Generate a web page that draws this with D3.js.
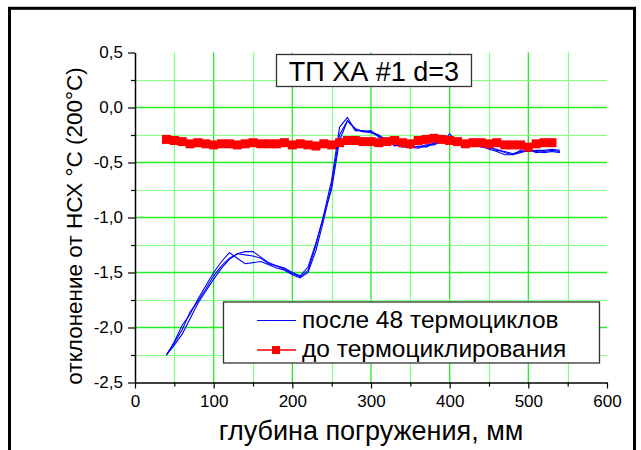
<!DOCTYPE html>
<html><head><meta charset="utf-8">
<script src="https://cdn.jsdelivr.net/npm/d3@7"></script>
<style>
html,body{margin:0;padding:0;background:#fff;}
text{font-family:"Liberation Sans",Arial,sans-serif;}
</style>
</head><body>
<svg id="chart" width="641" height="450"></svg>
<script>
// ---- data ----
const depthBlue = [40,50,60,70,80,90,100,110,120,130,140,150,160,170,180,190,200,210,220,230,240,250,260,270,280,290,300,310,320,330,340,350,360,370,380,390,400,410,420,430,440,450,460,470,480,490,500,510,520,530,540];
const blueA = [-2.25,-2.13,-1.98,-1.88,-1.74,-1.62,-1.50,-1.40,-1.32,-1.37,-1.42,-1.41,-1.40,-1.43,-1.46,-1.48,-1.52,-1.55,-1.50,-1.30,-1.02,-0.70,-0.25,-0.12,-0.20,-0.22,-0.21,-0.27,-0.32,-0.34,-0.35,-0.37,-0.35,-0.36,-0.33,-0.30,-0.30,-0.29,-0.34,-0.32,-0.35,-0.38,-0.40,-0.43,-0.43,-0.39,-0.38,-0.41,-0.40,-0.39,-0.40];
const blueB = [-2.25,-2.16,-2.06,-1.92,-1.78,-1.67,-1.56,-1.46,-1.38,-1.33,-1.31,-1.31,-1.36,-1.41,-1.44,-1.47,-1.51,-1.54,-1.48,-1.25,-0.97,-0.66,-0.18,-0.09,-0.21,-0.21,-0.22,-0.25,-0.30,-0.35,-0.34,-0.36,-0.37,-0.35,-0.32,-0.32,-0.24,-0.32,-0.33,-0.34,-0.35,-0.37,-0.38,-0.41,-0.43,-0.41,-0.39,-0.40,-0.41,-0.40,-0.41];
const blueC = [-2.25,-2.14,-2.02,-1.86,-1.76,-1.65,-1.53,-1.44,-1.37,-1.33,-1.34,-1.35,-1.37,-1.42,-1.44,-1.46,-1.50,-1.53,-1.45,-1.23,-0.99,-0.74,-0.30,-0.12,-0.19,-0.22,-0.23,-0.26,-0.31,-0.33,-0.36,-0.35,-0.36,-0.34,-0.34,-0.31,-0.29,-0.31,-0.32,-0.33,-0.36,-0.36,-0.39,-0.40,-0.42,-0.40,-0.40,-0.39,-0.39,-0.38,-0.39];
const depthRed = [40,50,60,70,80,90,100,110,120,130,140,150,160,170,180,190,200,210,220,230,240,250,260,270,280,290,300,310,320,330,340,350,360,370,380,390,400,410,420,430,440,450,460,470,480,490,500,510,520,530];
const redVals = [-0.29,-0.30,-0.31,-0.33,-0.32,-0.33,-0.34,-0.33,-0.33,-0.34,-0.33,-0.32,-0.33,-0.33,-0.33,-0.32,-0.34,-0.33,-0.34,-0.35,-0.33,-0.34,-0.32,-0.30,-0.30,-0.31,-0.31,-0.32,-0.31,-0.30,-0.32,-0.33,-0.30,-0.29,-0.28,-0.29,-0.30,-0.31,-0.33,-0.32,-0.32,-0.33,-0.32,-0.34,-0.34,-0.34,-0.36,-0.33,-0.32,-0.32];

const xMajorTicks = [0,100,200,300,400,500,600];
const xTickLabels = ["0","100","200","300","400","500","600"];
const xMinorTicks = [50,150,250,350,450,550];
const yMajorTicks = [-2.5,-2.0,-1.5,-1.0,-0.5,0.0,0.5];
const yTickLabels = ["-2,5","-2,0","-1,5","-1,0","-0,5","0,0","0,5"];
const yMinorTicks = [-2.25,-1.75,-1.25,-0.75,-0.25,0.25];

const seriesNames = ["после 48 термоциклов","до термоциклирования"];
const chartTitle = "ТП ХА #1 d=3";
const xTitle = "глубина погружения, мм";
const yTitle = "отклонение от НСХ °С (200°С)";

// ---- layout ----
const L = 135, R = 607, T = 52.5, B = 382.5;
const svg = d3.select("#chart");
const x = d3.scaleLinear().domain([0,600]).range([L,R]);
const y = d3.scaleLinear().domain([-2.5,0.5]).range([B,T]);

svg.append("rect").attr("width",641).attr("height",450).attr("fill","#fff");
svg.append("rect").attr("x",9.5).attr("y",8.3).attr("width",625).attr("height",460)
  .attr("fill","none").attr("stroke","#000").attr("stroke-width",3);

// grid
const g = svg.append("g");
g.selectAll(".vmin").data(xMinorTicks).join("line")
  .attr("x1",d=>Math.round(x(d))+0.5).attr("x2",d=>Math.round(x(d))+0.5).attr("y1",T).attr("y2",B)
  .attr("stroke","#80ff80").attr("stroke-width",1.2);
g.selectAll(".vmaj").data(xMajorTicks.slice(1,-1)).join("line")
  .attr("x1",d=>x(d)).attr("x2",d=>x(d)).attr("y1",T).attr("y2",B)
  .attr("stroke","#22ee22").attr("stroke-width",1.3);
g.selectAll(".hmin").data(yMinorTicks).join("line")
  .attr("y1",d=>Math.round(y(d))+0.5).attr("y2",d=>Math.round(y(d))+0.5).attr("x1",L).attr("x2",R)
  .attr("stroke","#80ff80").attr("stroke-width",1.2);
g.selectAll(".hmaj").data(yMajorTicks.slice(1,-1)).join("line")
  .attr("y1",d=>y(d)).attr("y2",d=>y(d)).attr("x1",L).attr("x2",R)
  .attr("stroke","#22ee22").attr("stroke-width",1.3);

// data
const line = d3.line().x(d=>x(d[0])).y(d=>y(d[1]));
[blueA,blueB,blueC].forEach(s=>{
  svg.append("path").datum(depthBlue.map((d,i)=>[d,s[i]]))
    .attr("d",line).attr("fill","none").attr("stroke","#0000ff").attr("stroke-width",1.1);
});
const redData = depthRed.map((d,i)=>[d,redVals[i]]);
svg.append("path").datum(redData).attr("d",line).attr("fill","none")
  .attr("stroke","#ff0000").attr("stroke-width",2);
svg.selectAll(".rm").data(redData).join("rect")
  .attr("x",d=>x(d[0])-4.5).attr("y",d=>y(d[1])-4.5).attr("width",9).attr("height",9)
  .attr("fill","#ff0000");

// axes
const fmtX = d=>xTickLabels[xMajorTicks.indexOf(d)];
const fmtY = d=>yTickLabels[yMajorTicks.indexOf(d)];
svg.append("g").attr("transform",`translate(0,${B})`)
  .call(d3.axisBottom(x).tickValues(xMajorTicks).tickFormat(fmtX).tickSize(6).tickSizeOuter(0).tickPadding(6));
svg.append("g").attr("transform",`translate(0,${B})`)
  .call(d3.axisBottom(x).tickValues(xMinorTicks).tickFormat("").tickSize(4).tickSizeOuter(0))
  .select(".domain").remove();
svg.append("g").attr("transform",`translate(${L},0)`)
  .call(d3.axisLeft(y).tickValues(yMajorTicks).tickFormat(fmtY).tickSize(7).tickSizeOuter(0).tickPadding(5));
svg.append("g").attr("transform",`translate(${L},0)`)
  .call(d3.axisLeft(y).tickValues(yMinorTicks).tickFormat("").tickSize(4).tickSizeOuter(0))
  .select(".domain").remove();
svg.selectAll(".domain").attr("stroke","#000").attr("stroke-width",1.5);
svg.selectAll(".tick line").attr("stroke","#000").attr("stroke-width",1.2);
svg.selectAll(".tick text").attr("font-size",17).attr("fill","#000")
  .attr("font-family","'Liberation Sans',Arial,sans-serif");

// axis titles
svg.append("text").attr("x",(L+R)/2).attr("y",440).attr("text-anchor","middle")
  .attr("font-size",27).text(xTitle);
svg.append("text").attr("transform","translate(82,226) rotate(-90)").attr("text-anchor","middle")
  .attr("font-size",22.5).text(yTitle);

// title box
svg.append("rect").attr("x",276.5).attr("y",54.5).attr("width",195).attr("height",32)
  .attr("fill","#fff").attr("stroke","#333").attr("stroke-width",1.3);
svg.append("text").attr("x",374).attr("y",80.5).attr("text-anchor","middle")
  .attr("font-size",27).text(chartTitle);

// legend
svg.append("rect").attr("x",223.5).attr("y",302).attr("width",376).attr("height",61)
  .attr("fill","#fff").attr("stroke","#333").attr("stroke-width",1.3);
svg.append("line").attr("x1",257).attr("x2",296).attr("y1",320.5).attr("y2",320.5)
  .attr("stroke","#0000ff").attr("stroke-width",1.2);
svg.append("line").attr("x1",257).attr("x2",296).attr("y1",350).attr("y2",350)
  .attr("stroke","#ff0000").attr("stroke-width",1.5);
svg.append("rect").attr("x",272).attr("y",346).attr("width",8).attr("height",8).attr("fill","#ff0000");
svg.append("text").attr("x",302).attr("y",328).attr("font-size",24.5).text(seriesNames[0]);
svg.append("text").attr("x",302).attr("y",357).attr("font-size",24.5).text(seriesNames[1]);
</script>
</body></html>
